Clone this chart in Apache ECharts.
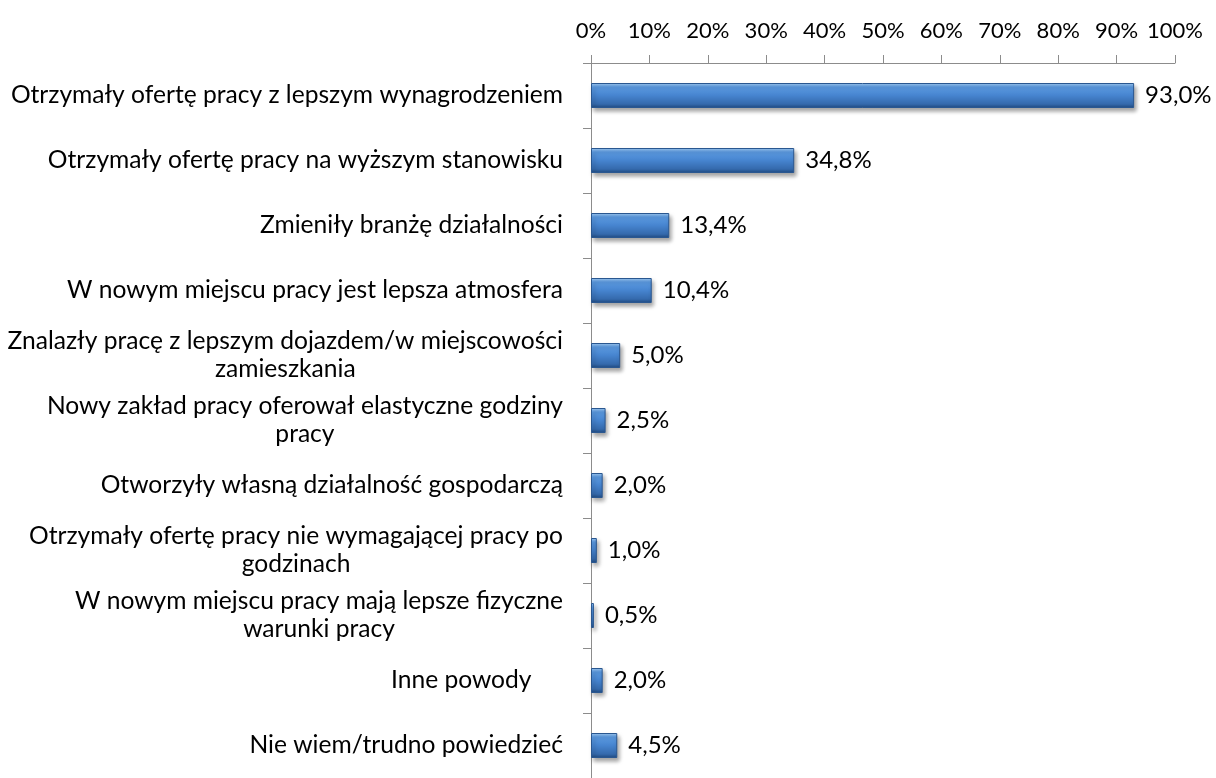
<!DOCTYPE html>
<html>
<head>
<meta charset="utf-8">
<script src="https://cdn.jsdelivr.net/npm/echarts@6/dist/echarts.min.js"></script>
<style>
html,body{margin:0;padding:0;background:#fff;}
#chart{width:1216px;height:778px;}
</style>
</head>
<body>
<div id="chart"></div>
<script>
var categories = [
	'Otrzymały ofertę pracy z lepszym wynagrodzeniem',
	'Otrzymały ofertę pracy na wyższym stanowisku',
	'Zmieniły branżę działalności',
	'W nowym miejscu pracy jest lepsza atmosfera',
	'Znalazły pracę z lepszym dojazdem/w miejscowości\nzamieszkania',
	'Nowy zakład pracy oferował elastyczne godziny\npracy',
	'Otworzyły własną działalność gospodarczą',
	'Otrzymały ofertę pracy nie wymagającej pracy po\ngodzinach',
	'W nowym miejscu pracy mają lepsze fizyczne\nwarunki pracy',
	'Inne powody     ',
	'Nie wiem/trudno powiedzieć'
];
var values = [93.0, 34.8, 13.4, 10.4, 5.0, 2.5, 2.0, 1.0, 0.5, 2.0, 4.5];
var tickLabels = ['0%','10%','20%','30%','40%','50%','60%','70%','80%','90%','100%'];

var font = 'Lato, "Open Sans", sans-serif';
var chart = echarts.init(document.getElementById('chart'));

var barColor = new echarts.graphic.LinearGradient(0, 0, 0, 1, [
	{offset: 0, color: '#a3cdf5'},
	{offset: 0.16, color: '#5c9be2'},
	{offset: 0.5, color: '#4684cf'},
	{offset: 0.84, color: '#356aad'},
	{offset: 1, color: '#1f4a80'}
]);

var option = {
	animation: false,
	grid: {
		left: 591,
		right: 41,
		top: 63,
		bottom: -7,
		containLabel: false
	},
	xAxis: {
		type: 'value',
		position: 'top',
		min: 0,
		max: 100,
		interval: 10,
		splitLine: {show: false},
		axisLine: {show: true, lineStyle: {color: '#8c8c8c', width: 1}},
		axisTick: {show: true, length: 8, lineStyle: {color: '#8c8c8c'}},
		axisLabel: {
			margin: 21,
			color: '#000',
			fontSize: 22,
			fontFamily: font,
			formatter: function (v) { return tickLabels[Math.round(v / 10)]; }
		}
	},
	yAxis: {
		type: 'category',
		inverse: true,
		data: categories,
		axisLine: {show: true, lineStyle: {color: '#8c8c8c', width: 1}},
		axisTick: {show: true, length: 8, lineStyle: {color: '#8c8c8c'}},
		axisLabel: {
			margin: 28,
			color: '#000',
			fontSize: 24.6,
			fontFamily: font,
			formatter: function (v) {
				return v.split('\n').map(function (l) { return '{c|' + l + '}'; }).join('\n');
			},
			rich: {
				c: {align: 'center', color: '#000', fontSize: 24.6, fontFamily: font, lineHeight: 28}
			}
		}
	},
	series: [
		{
			type: 'bar',
			data: values,
			barWidth: 25,
			itemStyle: {
				color: barColor,
				borderColor: '#2a5790',
				borderWidth: 1,
				shadowColor: 'rgba(0,0,0,0.35)',
				shadowBlur: 4,
				shadowOffsetX: 2,
				shadowOffsetY: 3
			},
			label: {
				show: true,
				position: 'right',
				distance: 11,
				color: '#000',
				fontSize: 24,
				fontFamily: font,
				formatter: function (p) { return p.value.toFixed(1).replace('.', ',') + '%'; }
			}
		}
	]
};
chart.setOption(option);
</script>
</body>
</html>
